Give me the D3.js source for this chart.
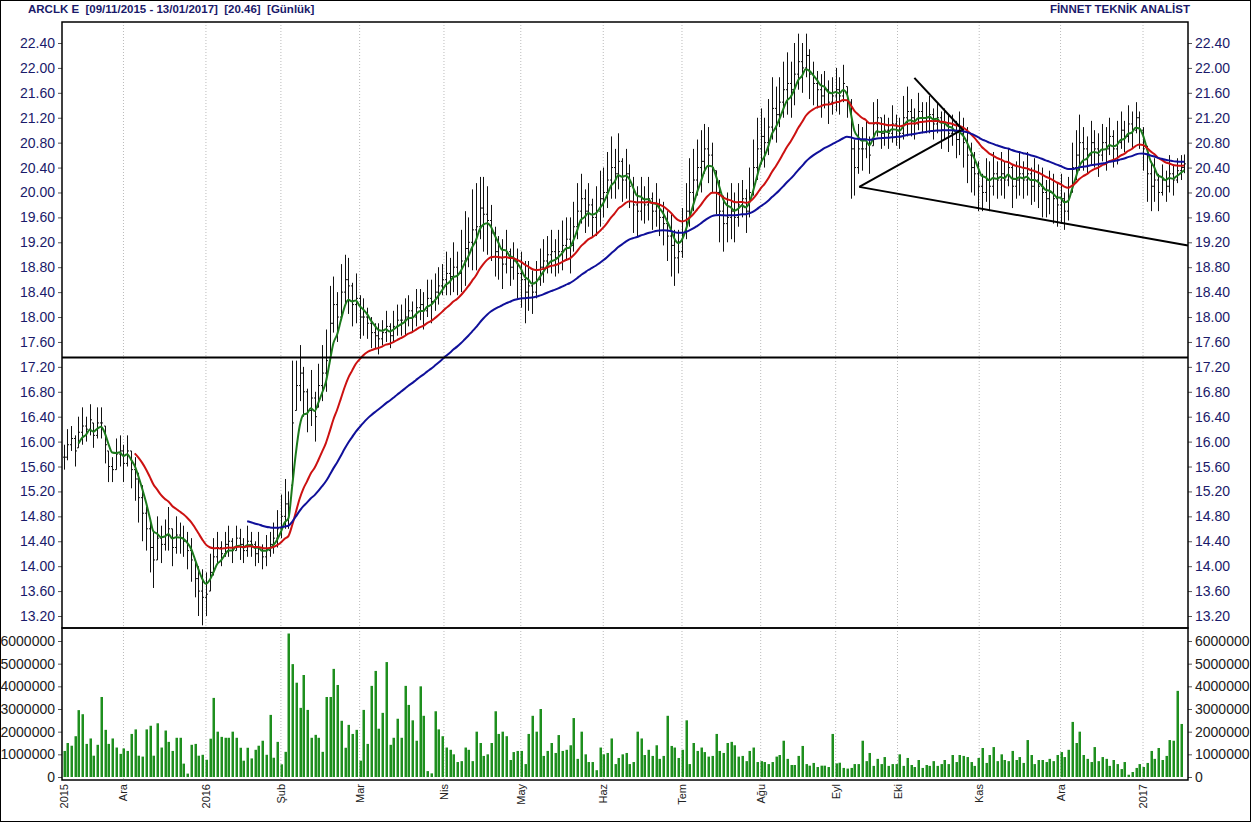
<!DOCTYPE html>
<html><head><meta charset="utf-8">
<script src="https://cdn.jsdelivr.net/npm/d3@7/dist/d3.min.js"></script>
<style>body{margin:0;background:#fff}svg{display:block;font-family:"Liberation Sans",Arial,sans-serif}</style>
</head><body><svg id="c" width="1251" height="822"></svg>
<script>
const title = "ARCLK E  [09/11/2015 - 13/01/2017]  [20.46]  [Günlük]";
const brand = "FİNNET TEKNİK ANALİST";
const closes = [
15.75,15.95,16.05,15.85,16.15,16.25,16.2,16.35,16.1,16.3,
16.3,15.95,15.6,15.55,15.8,15.85,15.65,15.85,15.55,15.4,
15.1,14.85,14.6,14.3,14.1,14.45,14.35,14.5,14.6,14.3,
14.5,14.45,14.4,14.25,14.1,13.8,13.6,13.5,13.55,13.9,
14.15,14.3,14.2,14.35,14.4,14.25,14.45,14.35,14.25,14.4,
14.35,14.2,14.3,14.15,14.25,14.35,14.45,14.6,14.8,15.0,
14.9,16.3,16.9,17.1,16.8,16.5,16.7,16.4,16.9,17.1,
17.3,17.9,18.2,18.0,18.4,18.6,18.5,18.2,18.3,18.0,
18.0,17.9,17.75,17.7,17.65,17.75,17.85,17.7,17.85,17.95,
17.95,18.0,18.1,18.0,18.15,18.2,18.1,18.3,18.25,18.4,
18.5,18.6,18.7,18.65,18.8,18.7,18.9,19.1,19.2,19.4,
19.45,19.75,19.65,19.55,19.35,19.05,18.95,18.85,19.05,18.8,
18.9,18.7,18.6,18.4,18.5,18.4,18.6,18.8,18.9,19.0,
19.05,18.95,19.05,19.15,19.25,19.15,19.45,19.7,19.9,19.7,
19.8,19.6,19.7,19.9,20.0,20.2,20.4,20.3,20.5,20.2,
20.3,20.1,19.8,19.7,19.9,19.8,19.9,19.7,19.8,19.6,
19.5,19.3,19.15,18.95,19.05,19.35,19.7,20.0,20.2,20.4,
20.5,20.7,20.6,20.4,20.0,19.7,19.5,19.6,19.7,19.6,
19.8,19.9,19.7,20.0,20.4,20.7,20.9,20.8,21.05,21.35,
21.25,21.45,21.65,21.75,21.65,21.9,22.1,22.0,22.2,21.9,
21.75,21.65,21.55,21.65,21.45,21.55,21.65,21.55,21.75,21.45,
20.7,20.4,20.7,20.7,20.85,20.6,21.1,21.2,20.95,21.0,
20.95,21.1,21.0,20.95,21.2,21.3,21.2,21.1,21.3,21.2,
21.2,21.25,21.1,21.2,21.0,21.1,20.95,21.0,20.85,20.95,
20.8,20.6,20.4,20.3,20.1,20.0,20.2,20.1,20.3,20.2,
20.3,20.2,20.4,20.1,20.2,20.3,20.2,20.3,20.1,20.2,
20.1,20.0,19.9,20.0,19.9,19.8,19.9,19.7,19.9,20.4,
20.6,20.8,20.7,20.6,20.8,20.7,20.6,20.8,20.7,20.9,
20.7,20.8,21.0,20.9,21.1,21.0,21.2,21.0,20.7,20.3,
20.1,20.2,20.0,20.2,20.1,20.3,20.2,20.35,20.4,20.46];
const ranges = [
.4,.5,.4,.5,.5,.6,.4,.5,.4,.5, .5,.6,.5,.4,.5,.5,.6,.5,.6,.7,
.8,.9,.7,.8,.9,.7,.6,.5,.7,.6, .6,.5,.5,.6,.7,.6,.8,.9,.7,.6,
.6,.5,.4,.4,.5,.4,.4,.5,.4,.5, .4,.4,.5,.4,.5,.4,.5,.6,.7,.8,
.6,2.0,.8,.9,.8,.7,.9,.8,.7,.9, 1.0,1.2,.9,.8,.9,.8,.9,.7,.8,.7,
.6,.5,.5,.4,.5,.4,.5,.4,.5,.5, .5,.6,.5,.5,.6,.5,.6,.6,.7,.6,
.6,.5,.7,.6,.8,.7,1.0,1.2,.8,1.3, 1.4,1.0,1.2,1.1,.9,.8,.7,.8,.7,.6,
.6,.8,.9,1.0,.8,.7,.6,.6,.7,.6, .7,.6,.7,.8,.7,.9,.8,.9,.8,.7,
.7,.6,.8,.9,.8,.9,1.0,.8,.9,.7, .8,.7,.9,.8,.7,.6,.7,.6,.7,.6,
.7,.8,1.0,.9,.7,.8,.9,1.1,1.0,.9, 1.0,.8,.9,.8,.7,1.0,.9,.8,.9,.8,
.7,.6,.7,.8,.9,1.0,.9,.8,.9,1.0, .9,.8,.9,1.0,.9,1.0,.9,.8,.7,.8,
.7,.6,.7,.6,.7,.6,.7,.6,.6,.5, 1.6,.9,.8,.7,.6,.6,.7,.6,.5,.5,
.5,.6,.5,.5,.7,.8,.6,.5,.6,.5, .5,.6,.5,.5,.6,.5,.6,.5,.6,.7,
.8,.9,.8,.7,.8,.6,.7,.8,.7,.6, .7,.6,.6,.7,.6,.7,.6,.7,.6,.7,
.7,.8,.6,.7,.8,.7,.8,.6,.7,.8, .8,.9,.7,.6,.7,.6,.7,.6,.7,.6,
.6,.7,.6,.5,.6,.6,.5,.6,.7,.9, .8,.7,.6,.5,.5,.6,.5,.4,.4,.3];
const volumesM = [
1.15,1.5,1.38,1.8,2.95,2.77,1.46,1.7,0.94,1.42,
3.53,2.08,1.46,1.7,1.3,1.02,1.26,1.15,1.9,2.1,
0.94,0.9,2.1,2.26,0.94,2.37,1.3,2.05,1.55,1.15,
1.73,1.73,0.59,0.15,1.42,1.46,0.94,0.98,0.76,1.69,
3.49,2.0,1.77,1.73,1.73,2.0,1.73,1.29,0.72,1.29,
0.82,1.2,1.38,1.6,0.98,2.74,0.85,1.55,0.56,1.11,
6.33,4.98,4.16,3.05,4.5,2.96,1.73,1.86,1.73,1.11,
3.53,3.53,4.77,4.06,2.48,1.29,2.3,1.9,2.08,0.72,
2.96,1.46,4.02,4.68,2.13,2.83,5.07,1.42,1.73,2.57,
1.73,4.02,3.18,
2.5,1.6,4.0,2.7,0.26,0.16,2.9,2.1,1.8,1.3,
1.2,1.0,0.66,0.7,1.3,1.2,0.7,2.0,1.5,0.93,
1.0,1.5,2.9,1.9,2.0,1.8,0.75,1.1,1.15,1.15,
0.57,1.9,2.7,2.0,3.0,0.93,1.15,1.5,1.06,1.85,
1.15,1.2,1.4,2.6,0.8,2.0,1.0,0.66,0.66,0.3,
1.3,1.0,1.06,1.7,0.57,0.84,1.0,1.06,0.57,0.66,
2.0,1.7,0.97,1.2,0.93,1.4,0.8,0.93,2.7,1.37,
1.3,0.84,1.2,2.5,0.57,1.5,1.15,1.3,1.1,0.9,
0.93,1.9,1.15,1.06,1.5,1.55,1.4,0.9,0.93,0.7,
1.15,1.3,0.66,0.7,0.66,0.57,0.66,0.9,0.97,1.6,
0.8,0.53,0.53,0.93,1.37,0.57,0.5,0.62,0.44,0.5,
0.5,0.44,1.9,
0.6,0.63,0.4,0.37,0.4,0.57,0.57,1.6,0.7,1.06,
0.49,0.8,0.57,0.88,0.49,0.57,0.57,1.0,0.49,0.84,
0.53,0.44,0.75,0.4,0.53,0.49,0.7,0.49,0.57,0.75,
0.57,0.97,0.66,0.97,0.93,0.88,0.66,0.49,0.84,1.28,
0.62,0.97,1.32,0.7,1.0,0.75,0.7,1.15,0.75,0.88,
0.62,1.63,0.97,0.57,0.75,0.75,0.66,0.8,0.7,0.97,
1.1,0.88,1.2,2.43,1.5,2.0,0.97,0.8,0.66,1.32,
0.7,0.88,0.8,0.49,0.75,0.57,0.35,0.66,0.1,0.22,
0.4,0.57,0.44,0.62,1.15,0.8,1.28,0.75,0.93,1.63,
1.6,3.8,2.34];
const monthLabels = ["2015","Ara","2016","Şub","Mar","Nis","May","Haz","Tem","Ağu","Eyl","Eki","Kas","Ara","2017"];
const monthIdx = [0,16,38,58,79,101.5,122,144,165,186,206,222.5,244.3,266,288];
const priceTicks = d3.range(13.2,22.41,0.4);
const volTicks = [0,1e6,2e6,3e6,4e6,5e6,6e6];
const maPeriods = [5,20,50];
const maColors = ["#1c7a1c","#cc1111","#10109a"];
const trendLines = [
 [[0,17.35],[300.3,17.35]],
 [[212.3,20.09],[239.5,21.0]],
 [[227,21.84],[240,21.0]],
 [[212.3,20.09],[300.3,19.15]]];

const svg = d3.select("#c");
const L=62,R=1188,T=22,PB=628,VB=780;
const x = d3.scaleLinear().domain([0,300]).range([L+1.5,R]);
const y = d3.scaleLinear().domain([13.2,22.4]).range([616,43]);
const yv = d3.scaleLinear().domain([0,6e6]).range([777,641]);
const navy="#1a1a6a";

svg.append("rect").attr("x",0.5).attr("y",0.5).attr("width",1250).attr("height",821).attr("fill","none").attr("stroke","#000");
svg.append("text").attr("x",28).attr("y",13).attr("font-size",11.5).attr("font-weight","bold").attr("fill",navy).attr("xml:space","preserve").text(title);
svg.append("text").attr("x",1190).attr("y",13).attr("text-anchor","end").attr("font-size",11.5).attr("font-weight","bold").attr("fill",navy).text(brand);

monthIdx.slice(1).forEach(i=>{
  svg.append("line").attr("x1",x(i)).attr("x2",x(i)).attr("y1",T).attr("y2",VB).attr("stroke","#bbb").attr("stroke-dasharray","1,2");
});

const gL = svg.append("g").attr("transform",`translate(${L},0)`)
 .call(d3.axisLeft(y).tickValues(priceTicks).tickFormat(d3.format(".2f")).tickSize(4));
const gR = svg.append("g").attr("transform",`translate(${R},0)`)
 .call(d3.axisRight(y).tickValues(priceTicks).tickFormat(d3.format(".2f")).tickSize(4));
[gL,gR].forEach(g=>{g.select(".domain").remove();g.selectAll("text").attr("font-size",14).attr("fill",navy).attr("font-family","Liberation Sans, Arial");g.selectAll("line").attr("stroke","#555");});
const vL = svg.append("g").attr("transform",`translate(${L},0)`)
 .call(d3.axisLeft(yv).tickValues(volTicks).tickFormat(d3.format("d")).tickSize(4));
const vR = svg.append("g").attr("transform",`translate(${R},0)`)
 .call(d3.axisRight(yv).tickValues(volTicks).tickFormat(d3.format("d")).tickSize(4));
[vL,vR].forEach(g=>{g.select(".domain").remove();g.selectAll("text").attr("font-size",14).attr("fill","#222").attr("font-family","Liberation Sans, Arial");g.selectAll("line").attr("stroke","#555");});

const bars = svg.append("g").attr("stroke","#111").attr("stroke-width",1);
closes.forEach((c,i)=>{
  const hi=c+ranges[i]/2, lo=c-ranges[i]/2, o=i?closes[i-1]:c;
  const xi=Math.round(x(i))+0.5, oy=y(Math.min(hi,Math.max(lo,o)));
  bars.append("line").attr("x1",xi).attr("x2",xi).attr("y1",y(hi)).attr("y2",y(lo));
  bars.append("line").attr("x1",xi-1.5).attr("x2",xi).attr("y1",oy).attr("y2",oy);
  bars.append("line").attr("x1",xi).attr("x2",xi+1.5).attr("y1",y(c)).attr("y2",y(c));
});

// exponential moving averages, drawn from the period's end
maPeriods.forEach((p,k)=>{
  const a=2/(p+1); let e=closes[0]; const pts=[];
  closes.forEach((c,i)=>{ e = i? a*c+(1-a)*e : c; if(i>=p-1) pts.push([i,e]); });
  svg.append("path").attr("d",d3.line().x(d=>x(d[0])).y(d=>y(d[1])).curve(d3.curveMonotoneX)(pts))
   .attr("fill","none").attr("stroke",maColors[k]).attr("stroke-width",2);
});

trendLines.forEach(t=>{
  svg.append("line").attr("x1",t[0][0]===0?L:x(t[0][0])).attr("y1",y(t[0][1])).attr("x2",Math.min(R,x(t[1][0]))).attr("y2",y(t[1][1]))
   .attr("stroke","#000").attr("stroke-width",2);
});

svg.append("g").selectAll("rect").data(volumesM).join("rect")
 .attr("x",(d,i)=>Math.round(x(i))-0.5).attr("width",2.5)
 .attr("y",d=>yv(d*1e6)).attr("height",d=>yv(0)-yv(d*1e6)).attr("fill","#1e8f1e");

svg.append("rect").attr("x",L).attr("y",T).attr("width",R-L).attr("height",PB-T).attr("fill","none").attr("stroke","#000").attr("stroke-width",1.5);
svg.append("rect").attr("x",L).attr("y",PB).attr("width",R-L).attr("height",VB-PB).attr("fill","none").attr("stroke","#000").attr("stroke-width",1.5);

monthLabels.forEach((m,k)=>{
  const xi=x(monthIdx[k]);
  svg.append("text").attr("transform",`translate(${xi+4},${VB+4}) rotate(-90)`).attr("text-anchor","end")
   .attr("font-size",11).attr("fill","#222").text(m);
});
</script></body></html>
